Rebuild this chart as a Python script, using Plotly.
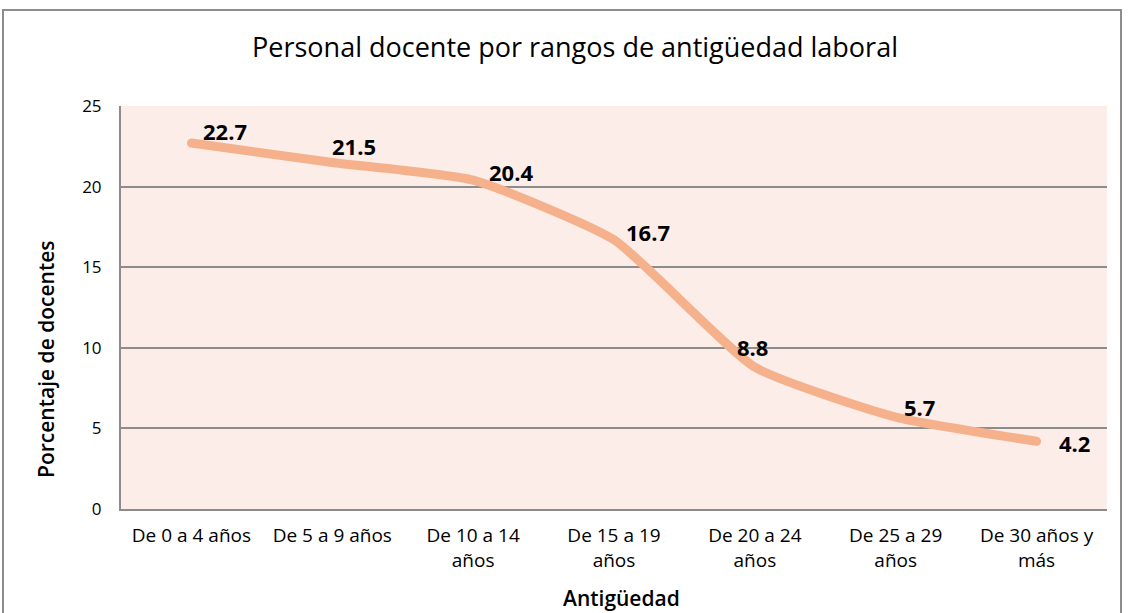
import plotly.graph_objects as go

categories = ["De 0 a 4 años", "De 5 a 9 años", "De 10 a 14<br>años", "De 15 a 19<br>años",
              "De 20 a 24<br>años", "De 25 a 29<br>años", "De 30 años y<br>más"]
values = [22.7, 21.5, 20.4, 16.7, 8.8, 5.7, 4.2]
labels = ["22.7", "21.5", "20.4", "16.7", "8.8", "5.7", "4.2"]
# label offsets (px) relative to each point
label_dx = [10, -2, 14, 10, -20, 6, 20]
label_dy = [12, 16, 8, 8, 20, 10, -2]

FONT = "Open Sans"

fig = go.Figure()
fig.add_trace(go.Scatter(
    x=categories, y=values, mode="lines",
    line=dict(color="#F5B18B", width=9, shape="spline", smoothing=0.5),
    hoverinfo="skip", showlegend=False,
))

for c, v, t, dx, dy in zip(categories, values, labels, label_dx, label_dy):
    fig.add_annotation(x=c, y=v, text=t, showarrow=False, xanchor="left", yanchor="middle",
                       xshift=dx, yshift=dy,
                       font=dict(family=FONT, size=22, color="black", weight="bold"))

# axis titles
fig.add_annotation(text="Antigüedad", xref="paper", yref="paper", x=(621 - 121) / 986,
                   y=(509 - 598) / 403, showarrow=False, xanchor="center", yanchor="middle",
                   font=dict(family=FONT, size=21, color="black", weight=600))
fig.add_annotation(text="Porcentaje de docentes", xref="paper", yref="paper",
                   x=(46 - 121) / 986, y=(509 - 359) / 403, textangle=-90, showarrow=False,
                   xanchor="center", yanchor="middle",
                   font=dict(family=FONT, size=21, color="black", weight=600))

# outer chart border
fig.add_shape(type="rect", xref="paper", yref="paper",
              x0=(3 - 121) / 986, x1=(1121 - 121) / 986,
              y0=-0.5, y1=(509 - 10) / 403,
              line=dict(color="#8C8C8C", width=2), fillcolor="rgba(0,0,0,0)", layer="below")

fig.update_layout(
    width=1128, height=613,
    margin=dict(l=121, r=21, t=106, b=104),
    paper_bgcolor="white", plot_bgcolor="#FCEDE8",
    title=dict(text="Personal docente por rangos de antigüedad laboral",
               x=(575) / 1128, xanchor="center", y=1 - 48 / 613, yanchor="middle",
               font=dict(family=FONT, size=27, color="black")),
    font=dict(family=FONT, size=17, color="black"),
    xaxis=dict(type="category", range=[-0.5, 6.5], showgrid=False, showline=True,
               linecolor="#8C8C8C", linewidth=2, ticks="", tickfont=dict(size=19),
               ticklabelstandoff=8, fixedrange=True),
    yaxis=dict(range=[0, 25], dtick=5, showgrid=True, gridcolor="#8C8C8C", gridwidth=1.5,
               showline=True, linecolor="#8C8C8C", linewidth=2, ticks="",
               ticklabelstandoff=14, tickfont=dict(size=17), zeroline=False, fixedrange=True),
)

post = (
    "document.body.style.margin='0';document.body.style.overflow='hidden';"
    "document.querySelectorAll('.scatterlayer path.js-line').forEach(function(p){"
    "p.style.strokeLinecap='round';p.style.strokeLinejoin='round';});"
)
fig.write_html("out.html", config={"displayModeBar": False}, post_script=post)
